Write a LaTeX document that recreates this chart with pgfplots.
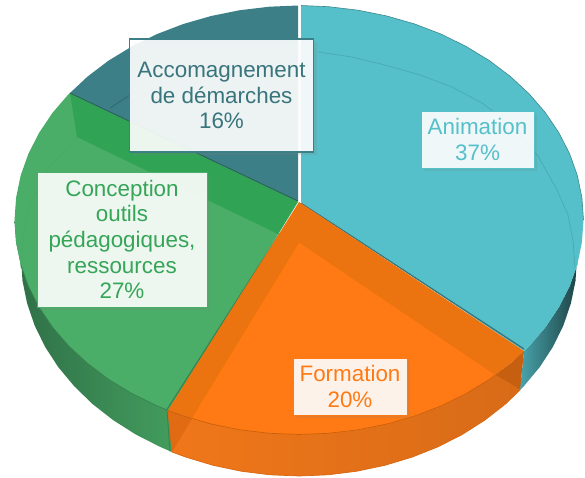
\documentclass[border=0pt]{standalone}
\usepackage{pgfplots}
\pgfplotsset{compat=1.18}
\usepackage{fontspec}
\setmainfont{Liberation Sans}
\usetikzlibrary{shadows}
\definecolor{tealdark}{HTML}{3D7F87}
\definecolor{teallight}{HTML}{55C0C9}
\definecolor{greenlight}{HTML}{4AAE68}
\definecolor{greendark}{HTML}{31A354}
\definecolor{greenshade}{HTML}{2F6F47}
\definecolor{orangelight}{HTML}{FF7A14}
\definecolor{orangedark}{HTML}{EC7410}
\definecolor{orangeside}{HTML}{F0771A}
\tikzset{lab/.style={fill=white, fill opacity=.9, text opacity=1, inner sep=0pt, align=center,
    font=\fontsize{22.4}{25.7}\selectfont,
    drop shadow={opacity=.18, shadow xshift=3pt, shadow yshift=-3pt}}}
\begin{document}
\begin{tikzpicture}
\path[use as bounding box] (0,0) rectangle (585pt,477pt);
\begin{axis}[
  anchor=south west, at={(0,0)},
  scale only axis, width=585pt, height=477pt,
  xmin=0, xmax=585, ymin=0, ymax=477, y dir=reverse, hide axis,
  every axis plot/.append style={forget plot, no markers, line join=round},
]
% Accompagnement slice
\addplot[fill=tealdark, draw=none] coordinates {(298,201)(70,93)(87.6,76.5)(108.6,60.6)(131.8,46.5)(156.7,34.2)(183.3,24)(211.1,16)(239.9,10.2)(269.3,6.7)(298,5.5)};
\addplot[draw=tealdark!85!black, line width=1pt] coordinates {(110,108)(130,95)};
% Green side
\addplot[draw=none, left color=greenshade, middle color=greenlight!85!black, right color=greenlight!90!black]
 coordinates {(14.5,220)(16.1,242.4)(20.7,264.6)(28.4,286.3)(39.1,307.2)(52.6,327.3)(68.8,346.1)(87.6,363.5)(108.6,379.4)(131.8,393.5)(156.7,405.8)(169,411)(173,452.5)(160,446.8)(135.6,434.4)(113,420)(92.4,403.9)(74.1,386.1)(58.2,367)(45,346.7)(34.6,325.4)(27.1,303.3)(22.5,280.8)(21,258)};
% Conception slice
\addplot[fill=greenlight, draw=none] coordinates {(298,202)(70,93)(68.8,93.9)(52.6,112.7)(39.1,132.8)(28.4,153.7)(20.7,175.4)(16.1,197.6)(14.5,220)(16.1,242.4)(20.7,264.6)(28.4,286.3)(39.1,307.2)(52.6,327.3)(68.8,346.1)(87.6,363.5)(108.6,379.4)(131.8,393.5)(156.7,405.8)(169,411)};
\addplot[fill=greendark, draw=none] coordinates {(70,93)(298,201)(278,234)(77,137)};
\addplot[draw=greendark!90!white, line width=.7pt] coordinates {(77,137)(47,170)(27,213)(23,240)(21,268)};
\addplot[draw=greenlight!75!black, line width=1.2pt] coordinates {(280,233)(167,409.5)};
\addplot[draw=greenlight!75!black, line width=.8pt] coordinates {(20.7,264.6)(28.4,286.3)(39.1,307.2)(52.6,327.3)(68.8,346.1)(87.6,363.5)(108.6,379.4)(131.8,393.5)(156.7,405.8)(167,410)(170,451.5)};
\addplot[draw=tealdark!70!black, line width=.8pt] coordinates {(70,93)(298,201)};
% Teal side
\addplot[draw=none, left color=teallight!85!black, middle color=teallight!70!black, right color=teallight!35!black]
 coordinates {(577.3,264.6)(569.6,286.3)(558.9,307.2)(545.4,327.3)(529.2,346.1)(524,351)(520,390)(523.9,386.1)(539.8,367)(553,346.7)(563.4,325.4)(570.9,303.3)(575.5,280.8)(577,258)};
% Animation slice
\addplot[fill=teallight, draw=none] coordinates {(301,202)(301,5.5)(328.7,6.7)(358.1,10.2)(386.9,16)(414.7,24)(441.3,34.2)(466.2,46.5)(489.4,60.6)(510.4,76.5)(529.2,93.9)(545.4,112.7)(558.9,132.8)(569.6,153.7)(577.3,175.4)(581.9,197.6)(583.5,220)(581.9,242.4)(577.3,264.6)(569.6,286.3)(558.9,307.2)(545.4,327.3)(529.2,346.1)(524,351)};
\addplot[draw=teallight!88!black, line width=.7pt] coordinates {(318,52)(352,57)(385,65)(420,75)(452,87)(482,103)(510,124)(538,156)(557,190)(568,215)(573,240)(575,268)};
\addplot[draw=teallight!60!black, line width=1.2pt] coordinates {(301,203)(524,349)};
\addplot[draw=teallight!70!black, line width=.6pt] coordinates {(301,5.5)(328.7,6.7)(358.1,10.2)(386.9,16)(414.7,24)(441.3,34.2)(466.2,46.5)(489.4,60.6)(510.4,76.5)(529.2,93.9)(545.4,112.7)(558.9,132.8)(569.6,153.7)(577.3,175.4)(581.9,197.6)(583.5,220)};
% Orange side
\addplot[draw=none, left color=orangeside, middle color=orangeside, right color=orangeside!90!black]
 coordinates {(168,410.4)(183.3,416)(211.1,424)(239.9,429.8)(269.3,433.3)(299,434.5)(328.7,433.3)(358.1,429.8)(386.9,424)(414.7,416)(441.3,405.8)(466.2,393.5)(489.4,379.4)(495,375)(520,390)(505.6,403.9)(485,420)(462.4,434.4)(438,446.8)(412.1,457.1)(384.9,465.3)(356.8,471.2)(328.1,474.8)(299,476)(269.9,474.8)(241.2,471.2)(213.1,465.3)(185.9,457.1)(172,452)};
% Formation slice
\addplot[fill=orangedark, draw=none] coordinates {(299,202)(168,410.4)(183.3,416)(211.1,424)(239.9,429.8)(269.3,433.3)(299,434.5)(328.7,433.3)(358.1,429.8)(386.9,424)(414.7,416)(441.3,405.8)(466.2,393.5)(489.4,379.4)(510.4,363.5)(524,351)};
\addplot[fill=orangelight, draw=orange!50!orangelight, line width=.7pt] coordinates {(299.5,243)(192,419)(211.1,424)(239.9,429.8)(269.3,433.3)(299,434.5)(328.7,433.3)(358.1,429.8)(386.9,424)(414.7,416)(441.3,405.8)(466.2,393.5)(489.4,379.4)(495,375)};
\addplot[fill=orangelight!78!black, draw=none] coordinates {(495,375)(510.4,363.5)(524,351)(520,390)};
\addplot[fill=orangelight!88!black, draw=none] coordinates {(168,410.4)(192,419)(172,452)};
\addplot[draw=orangelight!78!black, line width=.7pt] coordinates {(168,410.4)(183.3,416)(211.1,424)(239.9,429.8)(269.3,433.3)(299,434.5)(328.7,433.3)(358.1,429.8)(386.9,424)(414.7,416)(441.3,405.8)(466.2,393.5)(489.4,379.4)(495,375)};
\addplot[draw=orangelight!85!black, line width=.7pt] coordinates {(168,410.4)(172,452)(185.9,457.1)(213.1,465.3)(241.2,471.2)(269.9,474.8)(299,476)(328.1,474.8)(356.8,471.2)(384.9,465.3)(412.1,457.1)(438,446.8)(462.4,434.4)(485,420)(505.6,403.9)(520,390)};
\addplot[draw=orangelight!88!black, line width=.6pt] coordinates {(495,375)(520,390)};
% Labels
\node[lab, draw=tealdark, line width=1.6pt, text=tealdark!92!black, minimum width=184pt, minimum height=113pt, text depth=0pt]
  at (axis cs:221.5,95.5) {\raisebox{0pt}{Accomagnement}\\de démarches\\16\%};
\node[lab, draw=greenlight, line width=1pt, text=greendark!85!greenlight, minimum width=170pt, minimum height=135pt]
  at (axis cs:122,239.5) {Conception\\outils\\pédagogiques,\\ressources\\27\%};
\node[lab, draw=teallight, line width=1pt, text=teallight, minimum width=113pt, minimum height=57pt]
  at (axis cs:477.5,139.5) {Animation\\37\%};
\node[lab, draw=orangelight, line width=1pt, text=orangelight, minimum width=114pt, minimum height=57pt]
  at (axis cs:350,386.5) {Formation\\20\%};
\end{axis}
\end{tikzpicture}
\end{document}
